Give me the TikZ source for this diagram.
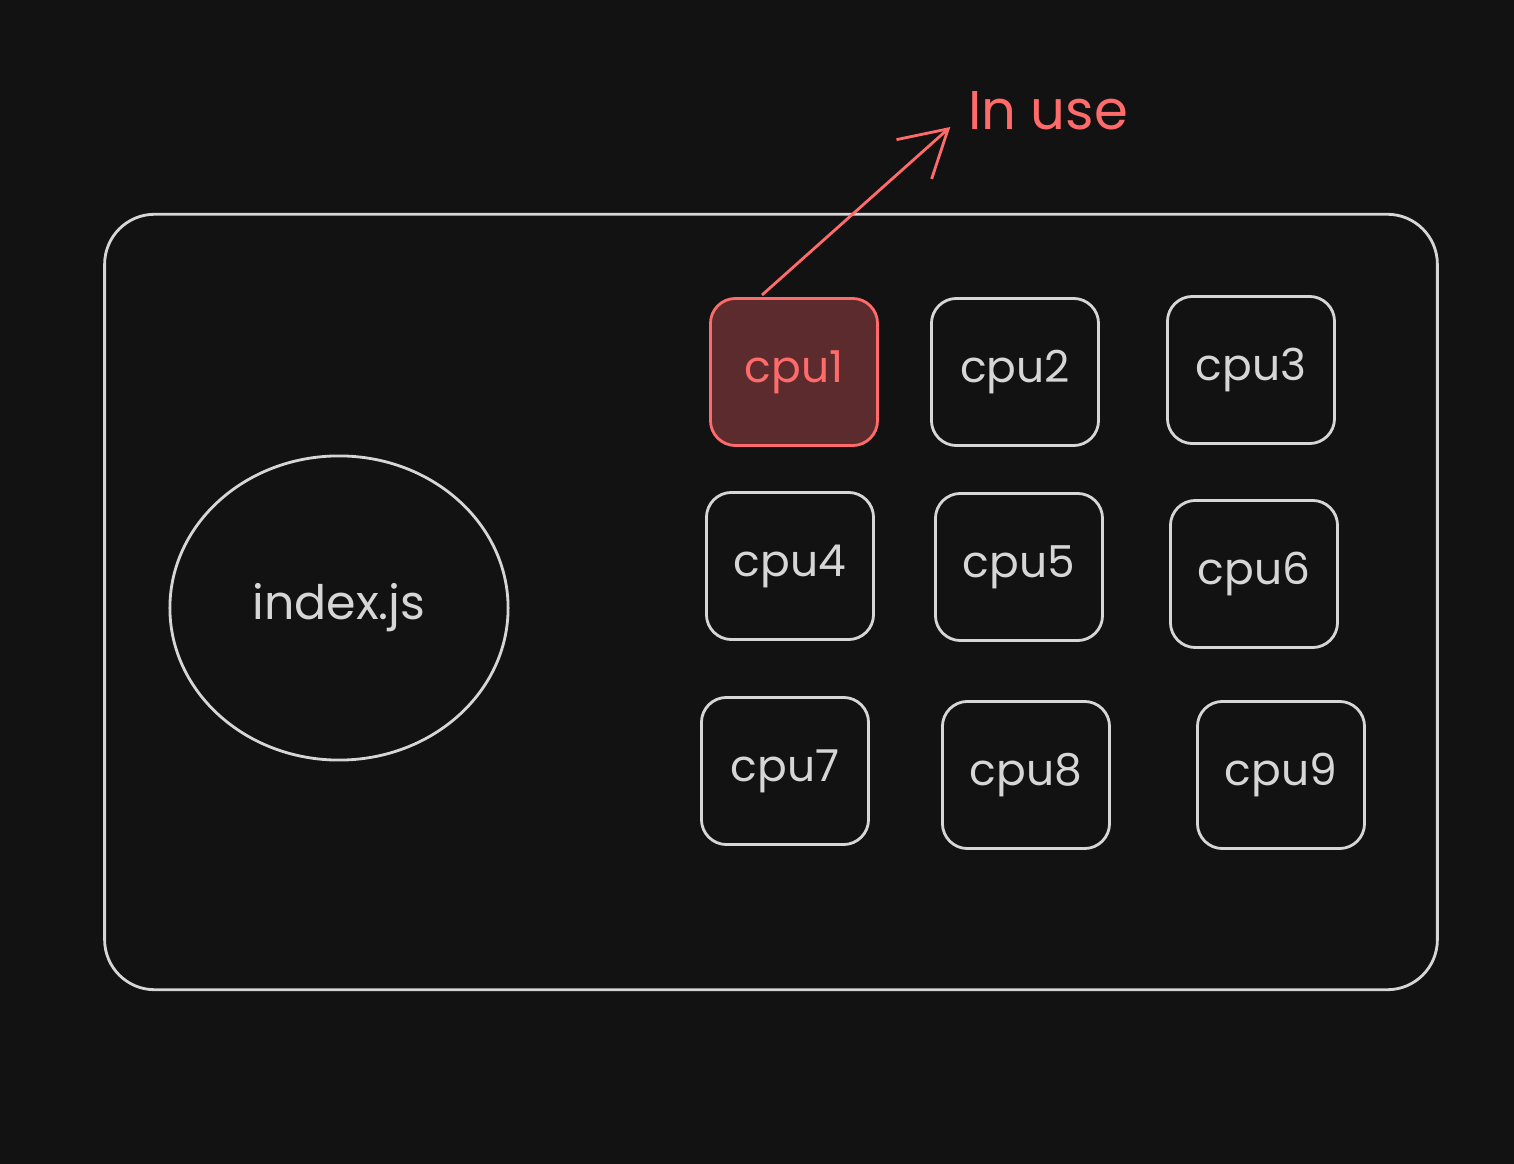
\documentclass[tikz,border=0pt]{standalone}
\usepackage{fontspec}
\setmainfont{Poppins}
\usetikzlibrary{positioning, shapes.geometric, arrows.meta}
\definecolor{colBack}{HTML}{121212}
\definecolor{strokeSketch}{HTML}{D6D6D6}
\definecolor{strokeUse}{HTML}{FF6B6B}
\definecolor{colUse}{HTML}{5C2B2E}

\begin{document}
\begin{tikzpicture}[
				x=0.01cm, y=-0.01cm, % pixel-like units, y going down
				font=\fontsize{12.5}{14}\selectfont,
				% Node Styles
				base/.style={draw=strokeSketch, line width=0.8pt, text=strokeSketch, align=center},
				machine/.style={base, rectangle, rounded corners=0.5cm, minimum width=13.32cm, minimum height=7.75cm},
				script/.style={base, ellipse, minimum width=3.38cm, minimum height=3.04cm, font=\fontsize{13.5}{16}\selectfont},
				core/.style={base, rectangle, rounded corners=0.25cm, minimum width=1.67cm, minimum height=1.47cm},
				busy/.style={core, fill=colUse, draw=strokeUse, text=strokeUse},
				note/.style={text=strokeUse, inner sep=2pt, font=\fontsize{15.5}{18}\selectfont},
				arrow/.style={-{Straight Barb[length=13pt, width=15pt, line width=0.8pt]}, line width=0.8pt, strokeUse}
				]
				
				% Canvas
				\fill[colBack] (0,0) rectangle (1514,1164);
				\useasboundingbox (0,0) rectangle (1514,1164);
				
				%% ================= CONTAINER =================
				\node[machine] (box) at (771,602) {};
				\node[script] (index) at (339,608) {index.js};
				
				%% ================= CPU GRID =================
				\node[busy] (cpu1) at (794,372) {cpu1};
				\node[core] (cpu2) at (1015,372) {cpu2};
				\node[core] (cpu3) at (1251,370) {cpu3};
				
				\node[core] (cpu4) at (790,566) {cpu4};
				\node[core] (cpu5) at (1019,567) {cpu5};
				\node[core] (cpu6) at (1254,574) {cpu6};
				
				\node[core] (cpu7) at (785,771) {cpu7};
				\node[core] (cpu8) at (1026,775) {cpu8};
				\node[core] (cpu9) at (1281,775) {cpu9};
				
				%% ================= ANNOTATION =================
				\node[note] (inuse) at (1048,111) {In use};
				\draw[arrow] ([shift={(-32,-2)}]cpu1.north) -- ([shift={(-10,16)}]inuse.west);
				
			\end{tikzpicture}
\end{document}
